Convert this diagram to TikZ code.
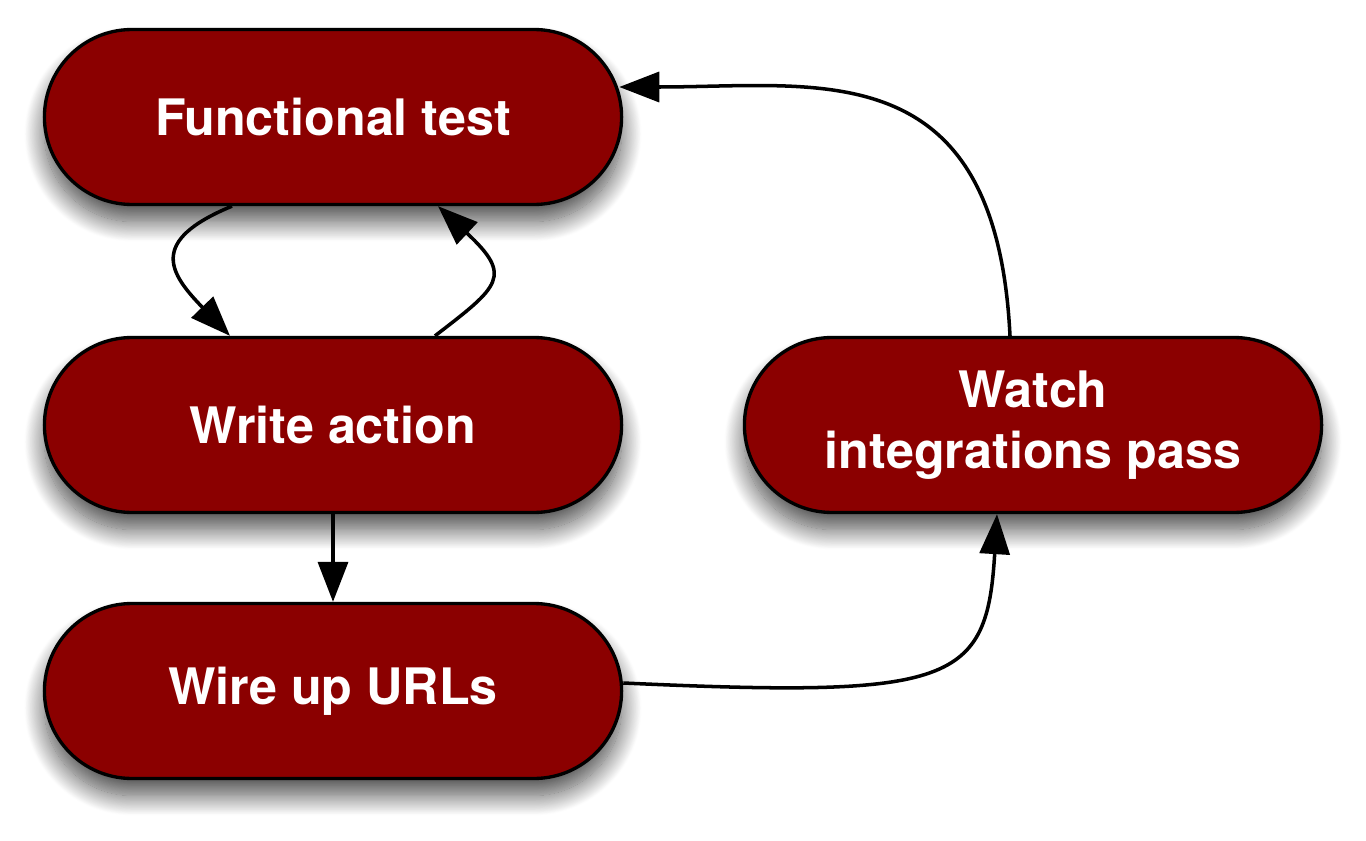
\documentclass[tikz,border=0pt]{standalone}
\usepackage{fontspec}
\setmainfont{TeX Gyre Heros}
\usepackage{tikz}
\usetikzlibrary{arrows.meta, calc, shapes.misc, shadows.blur}
\definecolor{taskred}{HTML}{8B0000}

\begin{document}
\begin{tikzpicture}[x=0.02cm, y=-0.02cm, >={Triangle[length=0.8cm, width=0.6cm]},
    task/.style={rounded rectangle, draw=black, line width=1.9pt, fill=taskred,
        minimum width=11.78cm, minimum height=3.5cm, align=center, text=white,
        font=\fontsize{28.6}{35}\selectfont\bfseries,
        blur shadow={shadow xshift=0cm, shadow yshift=-0.34cm,
                     shadow blur radius=0.4cm, shadow blur steps=25,
                     shadow opacity=70}},
    link/.style={->, line width=2pt}]
  \useasboundingbox (0,0) rectangle (1366,841);

  \node[task] (ft)  at (333,117)  {Functional test};
  \node[task] (wa)  at (333,425)  {Write action};
  \node[task] (wu)  at (333,691)  {Wire up URLs};
  \node[task] (wip) at (1033,425) {Watch\\integrations pass};

  \draw[link] ($(ft.south)+(-101,0)$) .. controls +(-85,35) and +(-60,-62) .. ($(wa.north)+(-103,0)$);
  \draw[link] ($(wa.north)+(102,0)$) .. controls +(65,-50) and +(75,70) .. ($(ft.south)+(105,0)$);
  \draw[link] (wa.south) -- (wu.north);
  \draw[link] ($(wu.east)+(0,-8)$) .. controls +(330,15) and +(-10,170) .. ($(wip.south)+(-36,0)$);
  \draw[link] ($(wip.north)+(-23,0)$) .. controls +(-14,-285) and +(200,0) .. ($(ft.east)+(-4,-30)$);
\end{tikzpicture}
\end{document}
